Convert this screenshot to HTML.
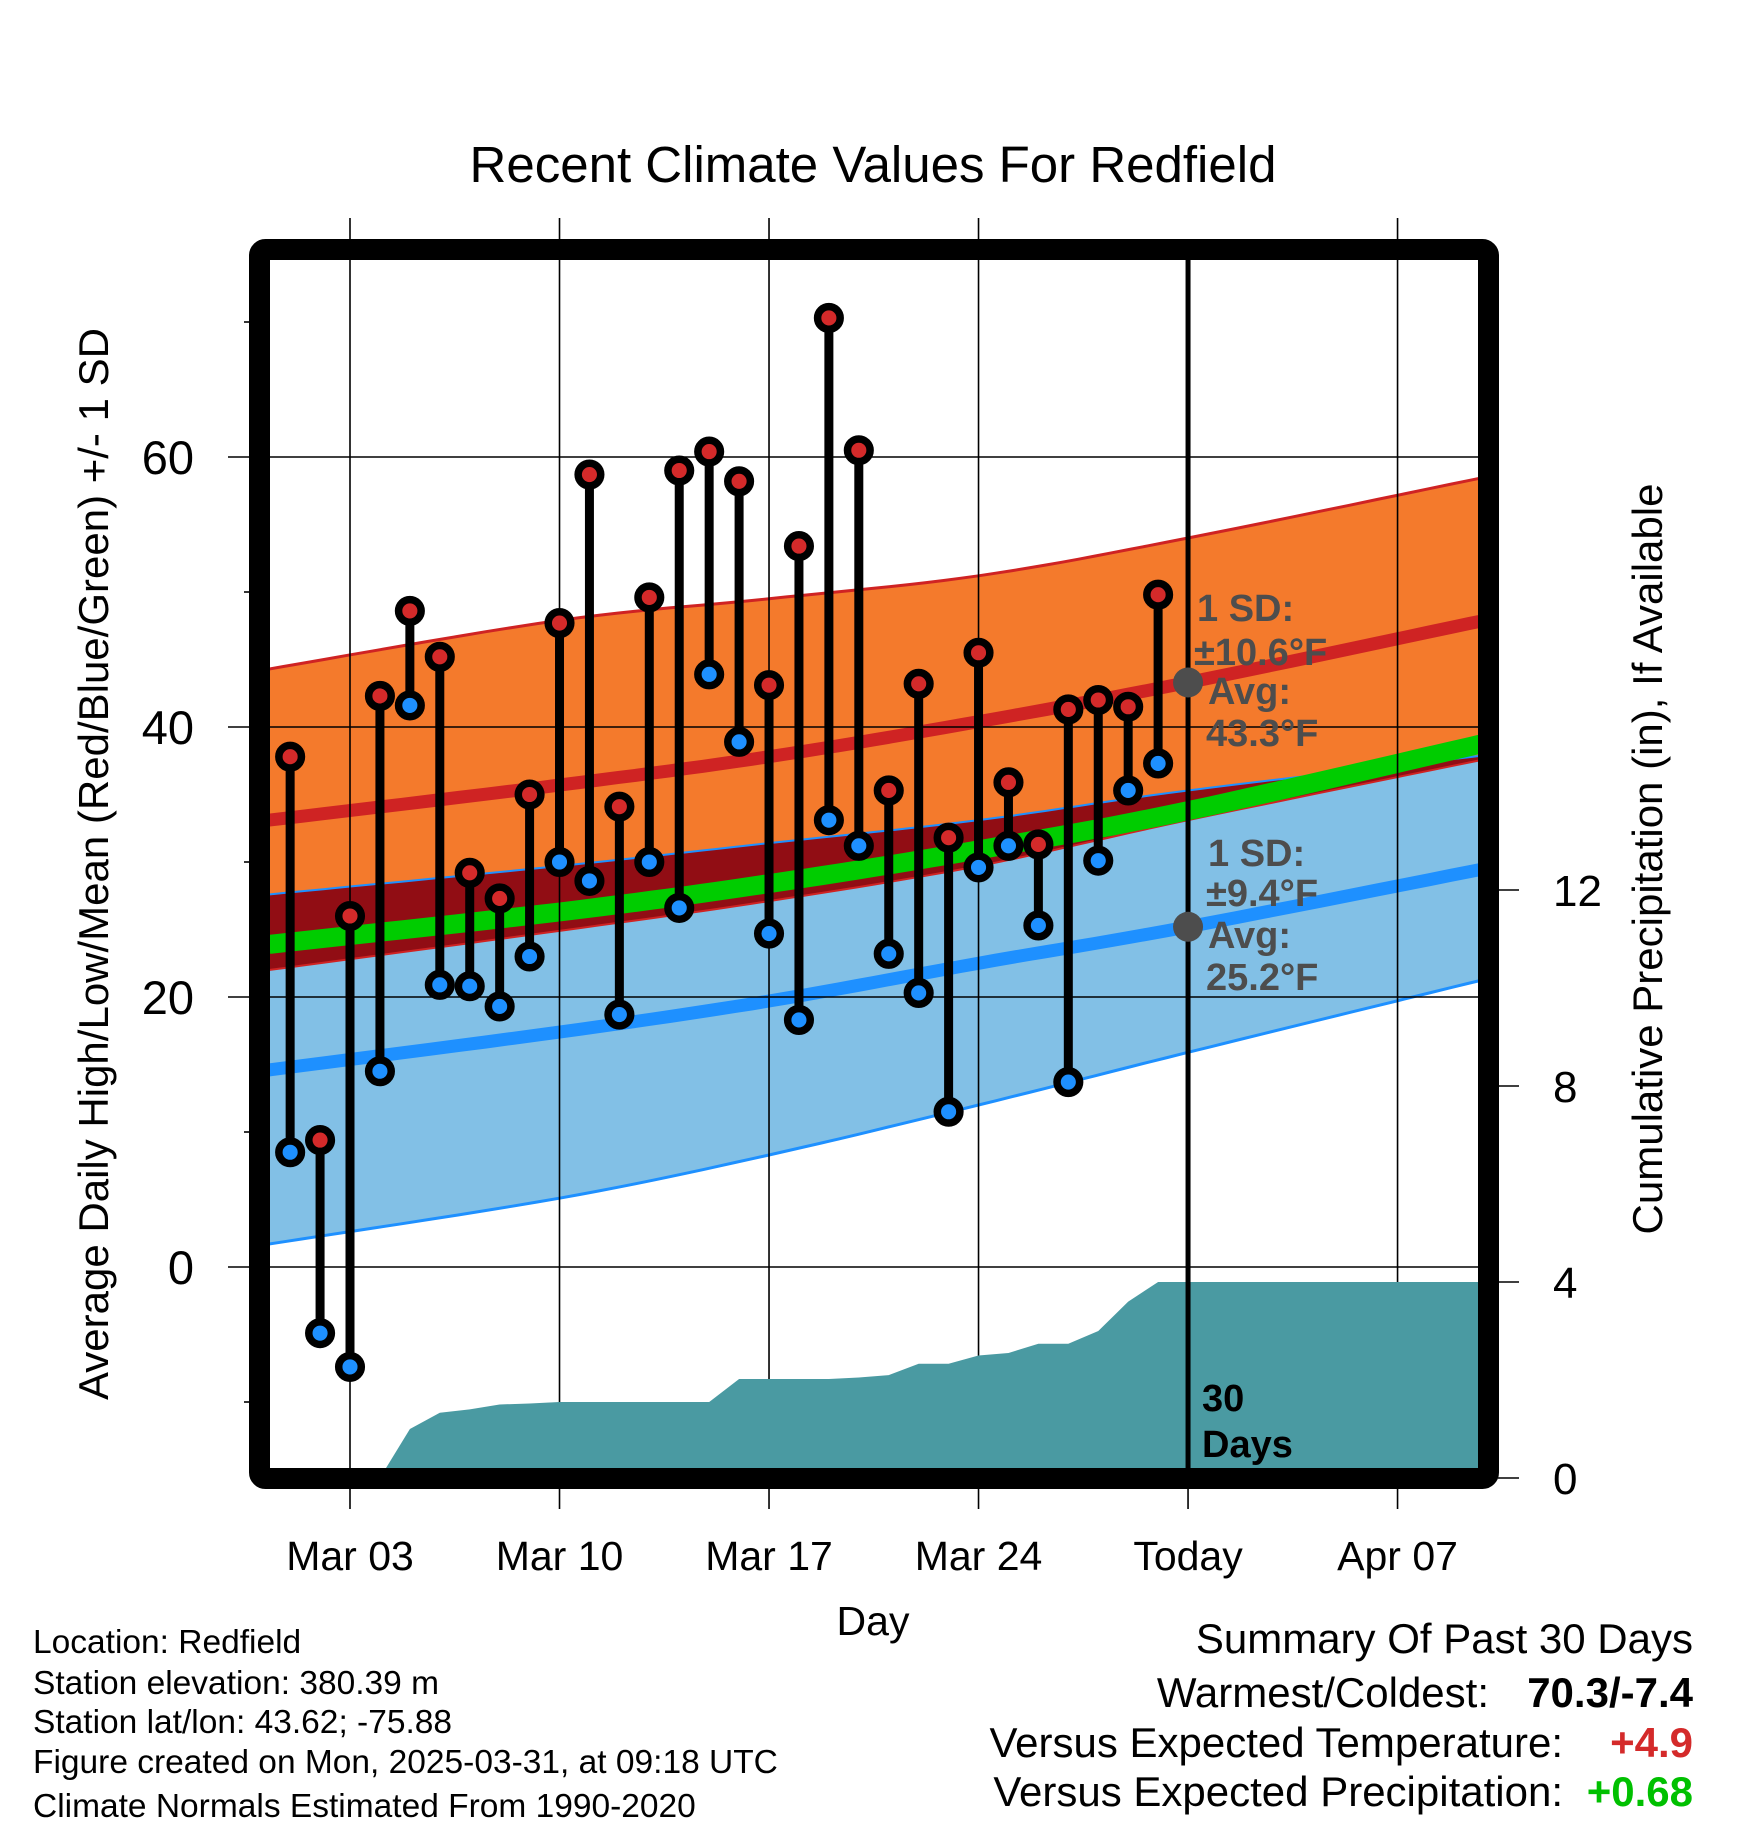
<!DOCTYPE html>
<html><head><meta charset="utf-8"><title>Recent Climate Values For Redfield</title>
<style>
html,body{margin:0;padding:0;background:#fff;}
svg{display:block;font-family:"Liberation Sans",Arial,sans-serif;}
</style></head>
<body>
<svg id="chart" width="1748" height="1828" viewBox="0 0 1748 1828" xmlns="http://www.w3.org/2000/svg">
<defs><clipPath id="plotclip"><rect x="270" y="260" width="1208" height="1208"/></clipPath></defs>
<text x="873" y="182" font-size="51" text-anchor="middle">Recent Climate Values For Redfield</text>
<g id="bands" clip-path="url(#plotclip)"></g>
<g id="grid"></g>
<g id="precip" clip-path="url(#plotclip)"></g>
<g id="marks"></g>
<g id="annot"></g>
<rect x="259.5" y="249.5" width="1229" height="1229" fill="none" stroke="#000" stroke-width="21" rx="6"/>
<g id="axes"></g>
<text transform="translate(108,864) rotate(-90)" font-size="42" text-anchor="middle">Average Daily High/Low/Mean (Red/Blue/Green) +/- 1 SD</text>
<text transform="translate(1662,859) rotate(-90)" font-size="42" text-anchor="middle">Cumulative Precipitation (in), If Available</text>
<text x="873" y="1635" font-size="41" text-anchor="middle">Day</text>
<g font-size="33.5">
<text x="33" y="1653">Location: Redfield</text>
<text x="33" y="1694">Station elevation: 380.39 m</text>
<text x="33" y="1733">Station lat/lon: 43.62; -75.88</text>
<text x="33" y="1773">Figure created on Mon, 2025-03-31, at 09:18 UTC</text>
<text x="33" y="1817">Climate Normals Estimated From 1990-2020</text>
</g>
<g font-size="42">
<text x="1693" y="1653" text-anchor="end">Summary Of Past 30 Days</text>
<text x="1489" y="1707" text-anchor="end">Warmest/Coldest:</text>
<text x="1693" y="1707" text-anchor="end" font-weight="bold">70.3/-7.4</text>
<text x="1563" y="1757" text-anchor="end">Versus Expected Temperature:</text>
<text x="1693" y="1757" text-anchor="end" font-weight="bold" fill="#d42a2a">+4.9</text>
<text x="1563" y="1806" text-anchor="end">Versus Expected Precipitation:</text>
<text x="1693" y="1806" text-anchor="end" font-weight="bold" fill="#00c000">+0.68</text>
</g>
</svg>
<script>
// ---- data ----
const days = [1,2,3,4,5,6,7,8,9,10,11,12,13,14,15,16,17,18,19,20,21,22,23,24,25,26,27,28,29,30];
const highs = [37.8,9.4,26.0,42.3,48.6,45.2,29.2,27.3,35.0,47.7,58.7,34.1,49.6,59.0,60.4,58.2,43.1,53.4,70.3,60.5,35.3,43.2,31.8,45.5,35.9,31.3,41.3,42.0,41.5,49.8];
const lows = [8.5,-4.9,-7.4,14.5,41.6,20.9,20.8,19.3,23.0,30.0,28.6,18.7,30.0,26.6,43.9,38.9,24.7,18.3,33.1,31.2,23.2,20.3,11.5,29.6,31.2,25.3,13.7,30.1,35.3,37.3];
const precip = [0,0,0,0,1.0,1.33,1.4,1.5,1.52,1.55,1.55,1.55,1.55,1.55,1.55,2.02,2.02,2.02,2.02,2.05,2.1,2.33,2.33,2.5,2.55,2.74,2.74,3.0,3.6,4.0];
const normDays = [0.3,10,17,24,31,40.9];
const hiUp = [44.3,47.9,49.5,51.2,54.0,58.5];
const hiAvg = [33.1,35.7,37.8,40.4,43.3,47.9];
const hiLo = [22.0,24.9,27.1,29.7,33.1,37.6];
const loUp = [27.6,29.7,31.4,33.1,35.3,37.9];
const meanT = [23.9,26.3,28.4,30.9,33.8,38.8];
const loAvg = [14.6,17.4,19.7,22.5,25.2,29.5];
const loLo = [1.7,5.1,8.3,12.0,15.9,21.3];
const xTickDays = [3,10,17,24,31,38];
const xTickLabels = ["Mar 03","Mar 10","Mar 17","Mar 24","Today","Apr 07"];
const yTicks = [0,20,40,60];
const yMinor = [-10,10,30,50,70];
const pTicks = [0,4,8,12];
const todayDay = 31;
const hiSD = "10.6", loSD = "9.4", hiNorm = "43.3", loNorm = "25.2";
// ---- scales ----
const X = d => 350 + (d - 3) * 29.93;
const Y = t => 1267 - t * 13.5;
const P = p => 1478 - p * 49;
const NS = "http://www.w3.org/2000/svg";
function mk(tag, parent, attrs){const e=document.createElementNS(NS,tag);for(const k in attrs)e.setAttribute(k,attrs[k]);parent.appendChild(e);return e;}
const g = id => document.getElementById(id);
function smooth(vals){
  const out=[];
  const n=normDays.length;
  for(let i=0;i<n-1;i++){
    const p0=[normDays[Math.max(i-1,0)],vals[Math.max(i-1,0)]];
    const p1=[normDays[i],vals[i]], p2=[normDays[i+1],vals[i+1]];
    const p3=[normDays[Math.min(i+2,n-1)],vals[Math.min(i+2,n-1)]];
    for(let s=0;s<12;s++){
      const t=s/12,t2=t*t,t3=t2*t;
      const f=(a,b,c,d)=>0.5*((2*b)+(-a+c)*t+(2*a-5*b+4*c-d)*t2+(-a+3*b-3*c+d)*t3);
      out.push(X(f(p0[0],p1[0],p2[0],p3[0])).toFixed(1)+","+Y(f(p0[1],p1[1],p2[1],p3[1])).toFixed(1));
    }
  }
  out.push(X(normDays[n-1]).toFixed(1)+","+Y(vals[n-1]).toFixed(1));
  return out;
}
function line(vals){return smooth(vals);}
function band(a,b){return line(a).concat(line(b).reverse()).join(" ");}

const B = g("bands");
let e;
e = mk("polygon",B,{points:band(hiUp,hiLo),fill:"#f47a2c"});


e = mk("polygon",B,{points:band(loUp,loLo),fill:"#82c0e6"});


e = mk("polygon",B,{points:band(loUp,hiLo),fill:"#910d14"});


e = mk("polyline",B,{points:line(hiUp).join(" "),fill:"none",stroke:"#cf2323","stroke-width":3});


e = mk("polyline",B,{points:line(hiLo).join(" "),fill:"none",stroke:"#cf2323","stroke-width":2});


e = mk("polyline",B,{points:line(loUp).join(" "),fill:"none",stroke:"#1e90ff","stroke-width":2});


e = mk("polyline",B,{points:line(loLo).join(" "),fill:"none",stroke:"#1e90ff","stroke-width":3});


e = mk("polyline",B,{points:line(meanT).join(" "),fill:"none",stroke:"#00cc00","stroke-width":19});


e = mk("polyline",B,{points:line(hiAvg).join(" "),fill:"none",stroke:"#cf2323","stroke-width":13});


e = mk("polyline",B,{points:line(loAvg).join(" "),fill:"none",stroke:"#1e90ff","stroke-width":13});



const G = g("grid"), A = g("axes");
xTickDays.forEach((d,i)=>{
  if(d!==todayDay){
    const l = mk("line",G,{x1:X(d),x2:X(d),y1:218,y2:1509,stroke:"#000","stroke-width":1.6});
    
    
  } else {
    const l = mk("line",A,{x1:X(d),x2:X(d),y1:1478,y2:1509,stroke:"#000","stroke-width":1.6});
    
    
  }
  const t = mk("text",A,{x:X(d),y:1570,"font-size":41,"text-anchor":"middle"});
  t.textContent = xTickLabels[i];
  
  
});
yTicks.forEach(v=>{
  const l = mk("line",G,{x1:228,x2:1478,y1:Y(v),y2:Y(v),stroke:"#000","stroke-width":1.6});
  
  
  const t = mk("text",A,{x:194,y:Y(v)+17,"font-size":47,"text-anchor":"end"});
  t.textContent = v;
  
  
});
yMinor.forEach(v=>{
  const l = mk("line",A,{x1:244,x2:252,y1:Y(v),y2:Y(v),stroke:"#000","stroke-width":1.6});
  
  
});
pTicks.forEach(v=>{
  const l = mk("line",A,{x1:1498,x2:1519,y1:P(v),y2:P(v),stroke:"#000","stroke-width":1.6});
  
  
  const t = mk("text",A,{x:1553,y:P(v)+16,"font-size":44});
  t.textContent = v;
  
  
});

const PR = g("precip");
let pts = [X(0)+","+P(0)];
days.forEach((d,i)=>pts.push(X(d).toFixed(1)+","+P(precip[i]).toFixed(1)));
pts.push(X(42)+","+P(precip[precip.length-1]));
pts.push(X(42)+","+P(0));
e = mk("polygon",PR,{points:pts.join(" "),fill:"#4a9aa2"});



const M = g("marks");
e = mk("line",M,{x1:X(todayDay),x2:X(todayDay),y1:260,y2:1468,stroke:"#000","stroke-width":5});



days.forEach((d,i)=>{
  const s = mk("line",M,{x1:X(d),x2:X(d),y1:Y(highs[i]),y2:Y(lows[i]),stroke:"#000","stroke-width":9});
  
  
});
days.forEach((d,i)=>{
  const h = mk("circle",M,{cx:X(d),cy:Y(highs[i]),r:11.3,fill:"#d42a2a",stroke:"#000","stroke-width":7.5});
  
  
  const l = mk("circle",M,{cx:X(d),cy:Y(lows[i]),r:11.3,fill:"#1e90ff",stroke:"#000","stroke-width":7.5});
  
  
});

const AN = g("annot");
e = mk("circle",AN,{cx:X(todayDay),cy:Y(parseFloat(hiNorm)),r:15,fill:"#4d4d4d"});


e = mk("circle",AN,{cx:X(todayDay),cy:Y(parseFloat(loNorm)),r:15,fill:"#4d4d4d"});


function at(txt,x,y,name){
  const t = mk("text",AN,{x:x,y:y,"font-size":38,"font-weight":"bold",fill:"#4d4d4d"});
  t.textContent = txt;
  
  
}
at("1 SD:",1197,621,"high-sd-label");
at("\u00b1"+hiSD+"\u00b0F",1194,665,"high-sd-value");
at("Avg:",1208,704,"high-avg-label");
at(hiNorm+"\u00b0F",1206,746,"high-avg-value");
at("1 SD:",1208,866,"low-sd-label");
at("\u00b1"+loSD+"\u00b0F",1206,906,"low-sd-value");
at("Avg:",1208,948,"low-avg-label");
at(loNorm+"\u00b0F",1206,990,"low-avg-value");
function bt(txt,y,name){
  const t = mk("text",AN,{x:1202,y:y,"font-size":38,"font-weight":"bold",fill:"#000"});
  t.textContent = txt;
  
  
}
bt("30",1411,"period-days-number");
bt("Days",1457,"period-days-label");
</script>
</body></html>
